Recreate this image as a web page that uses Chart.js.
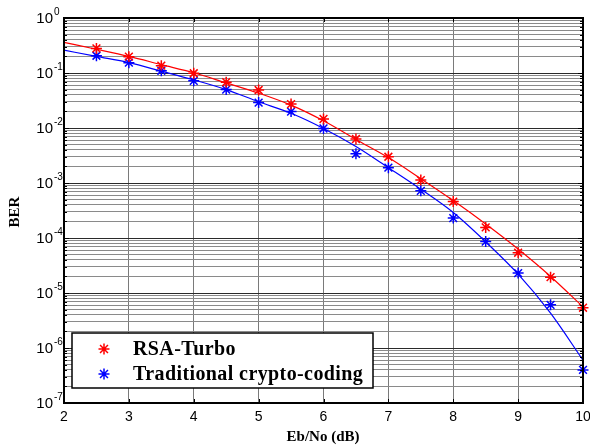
<!DOCTYPE html>
<html>
<head>
<meta charset="utf-8">
<script src="https://cdn.jsdelivr.net/npm/chart.js@4.4.0/dist/chart.umd.min.js"></script>
<style>
  html, body { margin: 0; padding: 0; background: #fff; }
  #wrap { width: 590px; height: 445px; position: relative; }
</style>
</head>
<body>
<div id="wrap"><canvas id="berChart"></canvas></div>
<script>
// measured BER points (markers)
const ebnoPts = [2.5, 3, 3.5, 4, 4.5, 5, 5.5, 6, 6.5, 7, 7.5, 8, 8.5, 9, 9.5, 10];
const rsaBer  = [0.28, 0.198, 0.136, 0.099, 0.068, 0.049, 0.0272, 0.0146, 0.0063, 0.0030, 0.00113, 4.6e-4, 1.56e-4, 5.4e-5, 1.94e-5, 5.4e-6];
const tradBer = [0.206, 0.154, 0.110, 0.072, 0.050, 0.029, 0.0199, 0.0098, 0.0034, 0.0019, 7.2e-4, 2.3e-4, 8.6e-5, 2.3e-5, 6.1e-6, 4.0e-7];

// fitted curves
const ebnoFit = [2, 2.5, 3, 3.5, 4, 4.5, 5, 5.5, 6, 6.5, 7, 7.5, 8, 8.5, 9, 9.5, 10];
const rsaFit  = [0.36, 0.27, 0.20, 0.142, 0.101, 0.066, 0.043, 0.026, 0.0135, 0.0062, 0.0029, 0.0012, 4.8e-4, 1.8e-4, 6.3e-5, 2.0e-5, 5.6e-6];
const tradFit = [0.26, 0.20, 0.154, 0.108, 0.075, 0.050, 0.030, 0.0185, 0.0098, 0.0046, 0.0019, 7.7e-4, 2.9e-4, 8.5e-5, 2.2e-5, 4.3e-6, 6.0e-7];

const xTicks = [2, 3, 4, 5, 6, 7, 8, 9, 10];
const yExponents = [0, -1, -2, -3, -4, -5, -6, -7];
const seriesNames = ['RSA-Turbo', 'Traditional crypto-coding'];
const seriesColors = ['#ff0000', '#0000ff'];

const toXY = (xs, ys) => xs.map((x, i) => ({ x: x, y: ys[i] }));
const isDecade = v => Math.abs(Math.log10(v) - Math.round(Math.log10(v))) < 1e-9;

function drawStar(ctx, x, y, r, color) {
  ctx.save();
  ctx.strokeStyle = color;
  ctx.lineWidth = 1.5;
  ctx.beginPath();
  ctx.moveTo(x - r, y); ctx.lineTo(x + r, y);
  ctx.moveTo(x, y - r); ctx.lineTo(x, y + r);
  const d = r * 0.72;
  ctx.moveTo(x - d, y - d); ctx.lineTo(x + d, y + d);
  ctx.moveTo(x - d, y + d); ctx.lineTo(x + d, y - d);
  ctx.stroke();
  ctx.restore();
}

// axes labels, box, ticks and legend drawn on top
const decor = {
  id: 'decor',
  afterDraw(chart) {
    const { ctx, chartArea: a, scales } = chart;
    const xs = scales.x, ys = scales.y;
    ctx.save();

    // inner tick marks
    ctx.strokeStyle = '#000';
    ctx.lineWidth = 1;
    ctx.beginPath();
    xTicks.forEach(v => {
      const px = Math.round(xs.getPixelForValue(v)) + 0.5;
      ctx.moveTo(px, a.top); ctx.lineTo(px, a.top + 4);
      ctx.moveTo(px, a.bottom); ctx.lineTo(px, a.bottom - 4);
    });
    ys.ticks.forEach(t => {
      const py = Math.round(ys.getPixelForValue(t.value)) + 0.5;
      const len = isDecade(t.value) ? 5 : 3;
      ctx.moveTo(a.left, py); ctx.lineTo(a.left + len, py);
      ctx.moveTo(a.right, py); ctx.lineTo(a.right - len, py);
    });
    ctx.stroke();

    // plot box
    ctx.lineWidth = 2;
    ctx.strokeRect(a.left, a.top, a.right - a.left, a.bottom - a.top);

    // x tick labels
    ctx.fillStyle = '#000';
    ctx.font = '14px "Liberation Sans", Arial, sans-serif';
    ctx.textAlign = 'center';
    ctx.textBaseline = 'middle';
    xTicks.forEach(v => ctx.fillText(String(v), xs.getPixelForValue(v), a.bottom + 14));

    // y tick labels with superscript exponents
    yExponents.forEach(e => {
      const py = ys.getPixelForValue(Math.pow(10, e));
      ctx.font = '15px "Liberation Sans", Arial, sans-serif';
      ctx.textAlign = 'right';
      ctx.fillText('10', a.left - 11, py + 1);
      ctx.font = '10px "Liberation Sans", Arial, sans-serif';
      ctx.textAlign = 'left';
      ctx.fillText(String(e), a.left - 10, py - 6);
    });

    // axis titles
    ctx.font = 'bold 15px "Liberation Serif", "Times New Roman", serif';
    ctx.textAlign = 'center';
    ctx.fillText('Eb/No (dB)', 323, 437);
    ctx.save();
    ctx.translate(15, 212);
    ctx.rotate(-Math.PI / 2);
    ctx.fillText('BER', 0, 0);
    ctx.restore();

    // legend box
    const lx = 72, ly = 333, lw = 301, lh = 55;
    ctx.fillStyle = '#fff';
    ctx.fillRect(lx, ly, lw, lh);
    ctx.lineWidth = 1.5;
    ctx.strokeStyle = '#000';
    ctx.strokeRect(lx, ly, lw, lh);
    ctx.font = 'bold 20px "Liberation Serif", "Times New Roman", serif';
    ctx.letterSpacing = '0.4px';
    ctx.textAlign = 'left';
    ctx.fillStyle = '#000';
    seriesNames.forEach((name, i) => {
      const yy = ly + 16 + i * 25;
      drawStar(ctx, 104, yy, 5.5, seriesColors[i]);
      ctx.fillText(name, 133, yy + 1);
    });

    ctx.restore();
  }
};

new Chart(document.getElementById('berChart'), {
  type: 'scatter',
  data: {
    datasets: [
      {
        label: seriesNames[0] + ' fit',
        data: toXY(ebnoFit, rsaFit),
        showLine: true,
        borderColor: seriesColors[0],
        borderWidth: 1.2,
        pointRadius: 0,
        cubicInterpolationMode: 'monotone'
      },
      {
        label: seriesNames[1] + ' fit',
        data: toXY(ebnoFit, tradFit),
        showLine: true,
        borderColor: seriesColors[1],
        borderWidth: 1.2,
        pointRadius: 0,
        cubicInterpolationMode: 'monotone'
      },
      {
        label: seriesNames[0],
        data: toXY(ebnoPts, rsaBer),
        showLine: false,
        pointStyle: 'star',
        pointRadius: 5.5,
        borderColor: seriesColors[0],
        borderWidth: 1.5
      },
      {
        label: seriesNames[1],
        data: toXY(ebnoPts, tradBer),
        showLine: false,
        pointStyle: 'star',
        pointRadius: 5.5,
        borderColor: seriesColors[1],
        borderWidth: 1.5
      }
    ]
  },
  options: {
    responsive: true,
    maintainAspectRatio: false,
    animation: false,
    clip: false,
    layout: { padding: { left: 64, right: 5, top: 18, bottom: 42 } },
    plugins: { legend: { display: false }, tooltip: { enabled: false } },
    scales: {
      x: {
        type: 'linear',
        min: 2,
        max: 10,
        afterBuildTicks: s => { s.ticks = xTicks.map(v => ({ value: v })); },
        afterFit: s => { s.height = 0; },
        ticks: { display: false },
        border: { display: false },
        grid: { color: '#7a7a7a', lineWidth: 1, drawTicks: false }
      },
      y: {
        type: 'logarithmic',
        min: 1e-7,
        max: 1,
        afterBuildTicks: s => {
          const t = [];
          for (let e = -7; e < 0; e++) {
            for (let m = 1; m <= 9; m++) t.push({ value: m * Math.pow(10, e), major: m === 1 });
          }
          t.push({ value: 1, major: true });
          s.ticks = t;
        },
        afterFit: s => { s.width = 0; },
        ticks: { display: false },
        border: { display: false },
        grid: {
          color: c => (c.tick && isDecade(c.tick.value)) ? '#2a2a2a' : '#8a8a8a',
          lineWidth: 1,
          drawTicks: false
        }
      }
    }
  },
  plugins: [decor]
});
</script>
</body>
</html>
